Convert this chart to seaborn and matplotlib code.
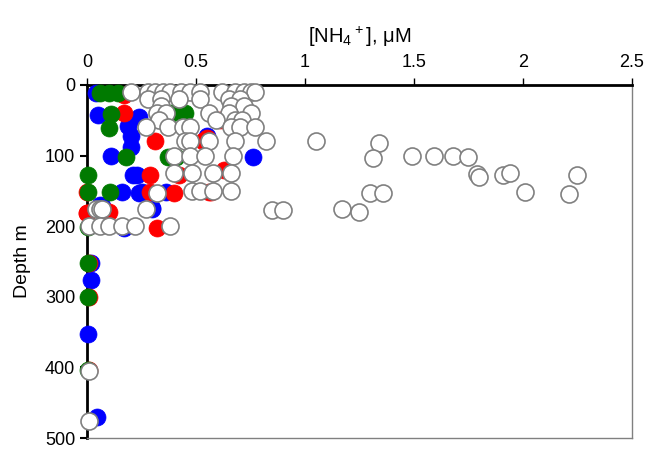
import numpy as np
import pandas as pd
import seaborn as sns
import matplotlib.pyplot as plt

# NH4+ (uM) vs depth (m), four groups
blue_nh4 = [0.04, 0.05, 0.19, 0.24, 0.20, 0.20, 0.11, 0.76, 0.55, 0.21, 0.23, 0.16, 0.25, 0.36, 0.30,
            0.07, 0.24, 0.30, 0.06, 0.17, 0.02, 0.02, 0.005, 0.045]
blue_depth = [11, 42, 58, 45, 73, 88, 100, 102, 73, 127, 127, 152, 152, 152, 174,
              172, 153, 176, 170, 203, 252, 276, 352, 470]

red_nh4 = [0.17, 0.17, 0.31, 0.53, 0.61, 0.42, 0.29, 0.40, 0.57, 0.63, 0.0, 0.09, 0.0, 0.29,
           0.56, 0.32, 0.10, 0.01, 0.01, 0.01, 0.0, 0.55]
red_depth = [14, 40, 80, 80, 50, 127, 127, 153, 152, 120, 152, 181, 181, 152,
             151, 203, 180, 252, 300, 403, 181, 75]

green_nh4 = [0.06, 0.10, 0.14, 0.11, 0.10, 0.18, 0.37, 0.41, 0.39, 0.45, 0.005, 0.005, 0.105,
             0.005, 0.005, 0.005, 0.005]
green_depth = [11, 11, 11, 41, 61, 102, 102, 102, 40, 40, 127, 152, 152,
               201, 252, 300, 403]

white_nh4 = [0.20, 0.28, 0.31, 0.35, 0.38, 0.43, 0.47, 0.52, 0.62, 0.68, 0.72, 0.75, 0.77,
             0.28, 0.34, 0.42, 0.52, 0.65, 0.70,
             0.34, 0.66, 0.72,
             0.32, 0.36, 0.56, 0.65, 0.75,
             0.33, 0.59, 0.68, 0.71,
             0.27, 0.37, 0.44, 0.47, 0.66, 0.70, 0.77,
             0.45, 0.47, 0.56, 0.68, 0.82, 1.05,
             0.40, 0.47, 0.54, 0.67, 1.34, 1.31, 1.49, 1.59, 1.68, 1.75,
             0.40, 0.48, 0.58, 0.66, 1.79, 1.80, 1.91, 1.94, 2.25,
             0.32, 0.48, 0.52, 0.58, 0.66, 1.30, 1.36, 2.01, 2.21,
             0.04, 0.06, 0.07, 0.27, 0.85, 0.90, 1.17, 1.25,
             0.01, 0.06, 0.10, 0.16, 0.22, 0.38,
             0.01, 0.01]
white_depth = [10, 10, 10, 10, 10, 10, 10, 10, 10, 10, 10, 10, 10,
               20, 20, 20, 20, 20, 20,
               30, 30, 30,
               40, 40, 40, 40, 40,
               50, 50, 50, 50,
               60, 60, 60, 60, 60, 60, 60,
               80, 80, 80, 80, 80, 80,
               100, 100, 100, 100, 82, 103, 101, 101, 101, 102,
               125, 125, 125, 125, 126, 130, 127, 125, 127,
               153, 150, 150, 150, 150, 153, 153, 151, 154,
               175, 175, 175, 175, 177, 177, 175, 180,
               200, 200, 200, 200, 200, 200,
               405, 476]

sns.set_style("white")
plt.rcParams['font.family'] = ['Liberation Sans', 'DejaVu Sans']
plt.rcParams['mathtext.default'] = 'regular'
plt.rcParams['text.color'] = 'black'
plt.rcParams['axes.labelcolor'] = 'black'
plt.rcParams['xtick.color'] = 'black'
plt.rcParams['ytick.color'] = 'black'

fig = plt.figure(figsize=(6.5, 4.54), dpi=100)
ax = fig.add_axes([0.134, 0.035, 0.838, 0.778])

groups = [(blue_nh4, blue_depth, "#0000ff", "#0000ff"),
          (red_nh4, red_depth, "#ff0000", "#ff0000"),
          (green_nh4, green_depth, "#007a00", "#007a00"),
          (white_nh4, white_depth, "white", "#808080")]
for xs, ys, fc, ec in groups:
    df = pd.DataFrame({"nh4": xs, "depth": ys})
    sns.scatterplot(data=df, x="nh4", y="depth", ax=ax, s=150, color=fc,
                    edgecolor=ec, linewidth=1.2 if fc == "white" else 0.5,
                    clip_on=False, zorder=3)

ax.set_xlim(0, 2.5)
ax.set_ylim(500, 0)
ax.set_xticks([0, 0.5, 1, 1.5, 2, 2.5])
ax.set_xticklabels(["0", "0.5", "1", "1.5", "2", "2.5"])
ax.set_yticks([0, 100, 200, 300, 400, 500])
ax.xaxis.tick_top()
ax.xaxis.set_label_position("top")
ax.tick_params(axis="x", top=True, bottom=False, direction="out", length=5, width=1, labelsize=13, pad=5)
ax.tick_params(axis="y", left=True, direction="out", length=5, width=1.5, labelsize=13)
ax.set_xlabel("[NH$_4$$^+$], μM", fontsize=14.5, labelpad=8)
ax.set_ylabel("Depth m", fontsize=14, labelpad=10)

for side in ["top", "left"]:
    ax.spines[side].set_color("black")
    ax.spines[side].set_linewidth(2)
for side in ["bottom", "right"]:
    ax.spines[side].set_color("#808080")
    ax.spines[side].set_linewidth(1)

fig.savefig("out.png", dpi=100)
